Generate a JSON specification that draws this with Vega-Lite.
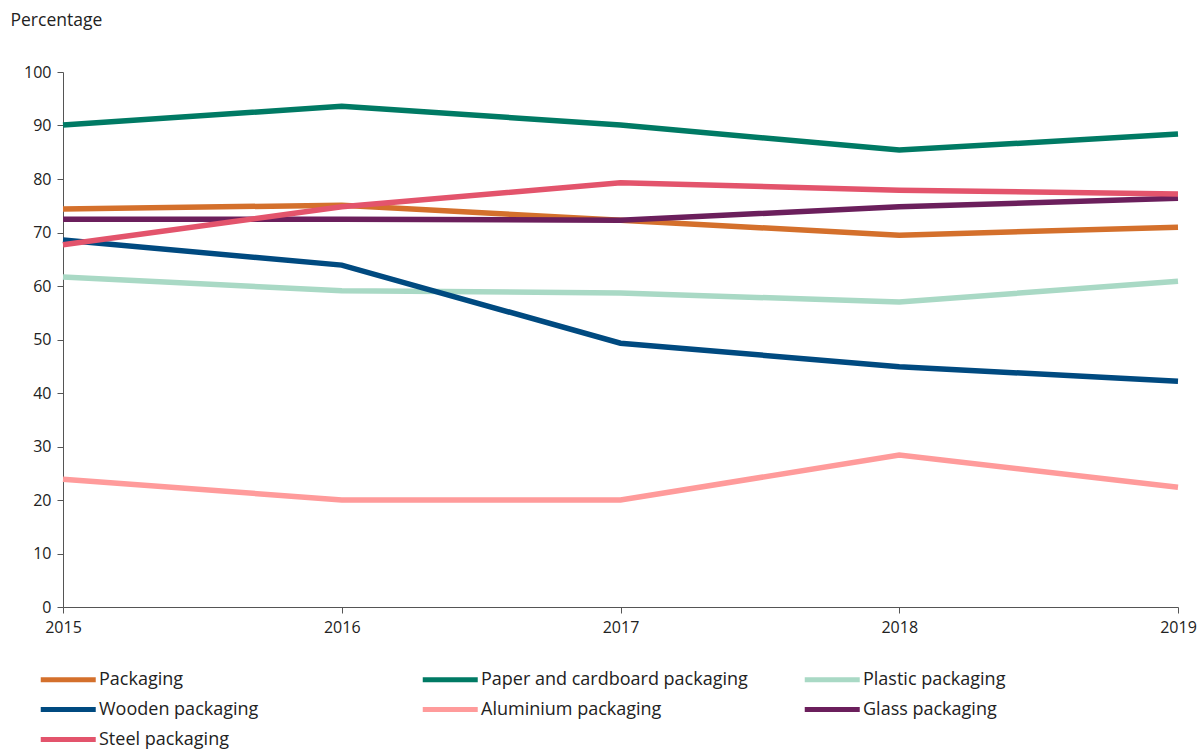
{
  "$schema": "https://vega.github.io/schema/vega-lite/v6.json",
  "width": 1115,
  "height": 535,
  "autosize": "none",
  "padding": {"left": 63, "top": 72, "right": 26, "bottom": 144},
  "background": "white",
  "config": {
    "view": {"stroke": null},
    "font": "Open Sans"
  },
  "data": {
    "values": [
      {"year": 2015, "series": "Packaging", "value": 74.4},
      {"year": 2016, "series": "Packaging", "value": 75.1},
      {"year": 2017, "series": "Packaging", "value": 72.3},
      {"year": 2018, "series": "Packaging", "value": 69.5},
      {"year": 2019, "series": "Packaging", "value": 71.0},
      {"year": 2015, "series": "Paper and cardboard packaging", "value": 90.1},
      {"year": 2016, "series": "Paper and cardboard packaging", "value": 93.6},
      {"year": 2017, "series": "Paper and cardboard packaging", "value": 90.1},
      {"year": 2018, "series": "Paper and cardboard packaging", "value": 85.4},
      {"year": 2019, "series": "Paper and cardboard packaging", "value": 88.4},
      {"year": 2015, "series": "Plastic packaging", "value": 61.7},
      {"year": 2016, "series": "Plastic packaging", "value": 59.1},
      {"year": 2017, "series": "Plastic packaging", "value": 58.7},
      {"year": 2018, "series": "Plastic packaging", "value": 57.0},
      {"year": 2019, "series": "Plastic packaging", "value": 60.9},
      {"year": 2015, "series": "Wooden packaging", "value": 68.6},
      {"year": 2016, "series": "Wooden packaging", "value": 63.9},
      {"year": 2017, "series": "Wooden packaging", "value": 49.3},
      {"year": 2018, "series": "Wooden packaging", "value": 44.9},
      {"year": 2019, "series": "Wooden packaging", "value": 42.2},
      {"year": 2015, "series": "Aluminium packaging", "value": 23.9},
      {"year": 2016, "series": "Aluminium packaging", "value": 20.0},
      {"year": 2017, "series": "Aluminium packaging", "value": 20.0},
      {"year": 2018, "series": "Aluminium packaging", "value": 28.4},
      {"year": 2019, "series": "Aluminium packaging", "value": 22.4},
      {"year": 2015, "series": "Glass packaging", "value": 72.5},
      {"year": 2016, "series": "Glass packaging", "value": 72.5},
      {"year": 2017, "series": "Glass packaging", "value": 72.3},
      {"year": 2018, "series": "Glass packaging", "value": 74.8},
      {"year": 2019, "series": "Glass packaging", "value": 76.4},
      {"year": 2015, "series": "Steel packaging", "value": 67.7},
      {"year": 2016, "series": "Steel packaging", "value": 74.8},
      {"year": 2017, "series": "Steel packaging", "value": 79.3},
      {"year": 2018, "series": "Steel packaging", "value": 77.9},
      {"year": 2019, "series": "Steel packaging", "value": 77.2}
    ]
  },
  "mark": {"type": "line", "strokeWidth": 5.5, "strokeCap": "butt", "strokeJoin": "miter"},
  "encoding": {
    "x": {
      "field": "year",
      "type": "quantitative",
      "scale": {"domain": [2015, 2019], "nice": false, "zero": false},
      "axis": {
        "values": [2015, 2016, 2017, 2018, 2019],
        "format": "d",
        "title": null,
        "grid": false,
        "domainColor": "#555555",
        "tickColor": "#555555",
        "tickSize": 6,
        "labelFontSize": 16,
        "labelColor": "#222222",
        "labelPadding": 6,
        "labelFlush": false
      }
    },
    "y": {
      "field": "value",
      "type": "quantitative",
      "scale": {"domain": [0, 100], "nice": false},
      "axis": {
        "values": [0, 10, 20, 30, 40, 50, 60, 70, 80, 90, 100],
        "title": "Percentage",
        "titleAngle": 0,
        "titleAlign": "left",
        "titleBaseline": "middle",
        "titleX": -53,
        "titleY": -52,
        "titleFontSize": 17.5,
        "titleFontWeight": "normal",
        "titleColor": "#222222",
        "grid": false,
        "domainColor": "#555555",
        "tickColor": "#555555",
        "tickSize": 6,
        "labelFontSize": 16,
        "labelColor": "#222222",
        "labelPadding": 6
      }
    },
    "color": {
      "field": "series",
      "type": "nominal",
      "sort": null,
      "scale": {
        "domain": ["Packaging", "Paper and cardboard packaging", "Plastic packaging", "Wooden packaging", "Aluminium packaging", "Glass packaging", "Steel packaging"],
        "range": ["#D4702C", "#007A64", "#A9D9C5", "#004A80", "#FF9B9B", "#6B1F5C", "#E3546C"]
      },
      "legend": {
        "title": null,
        "orient": "none",
        "direction": "horizontal",
        "columns": 3,
        "legendX": -25,
        "legendY": 591,
        "gridAlign": "all",
        "columnPadding": 46,
        "rowPadding": 3,
        "symbolType": "M-1,0H3",
        "symbolSize": 756,
        "symbolStrokeWidth": 5,
        "symbolFillColor": "transparent",
        "labelFontSize": 18,
        "labelColor": "#222222",
        "labelOffset": 28,
        "labelLimit": 400
      }
    },
    "order": {"field": "year"}
  }
}
